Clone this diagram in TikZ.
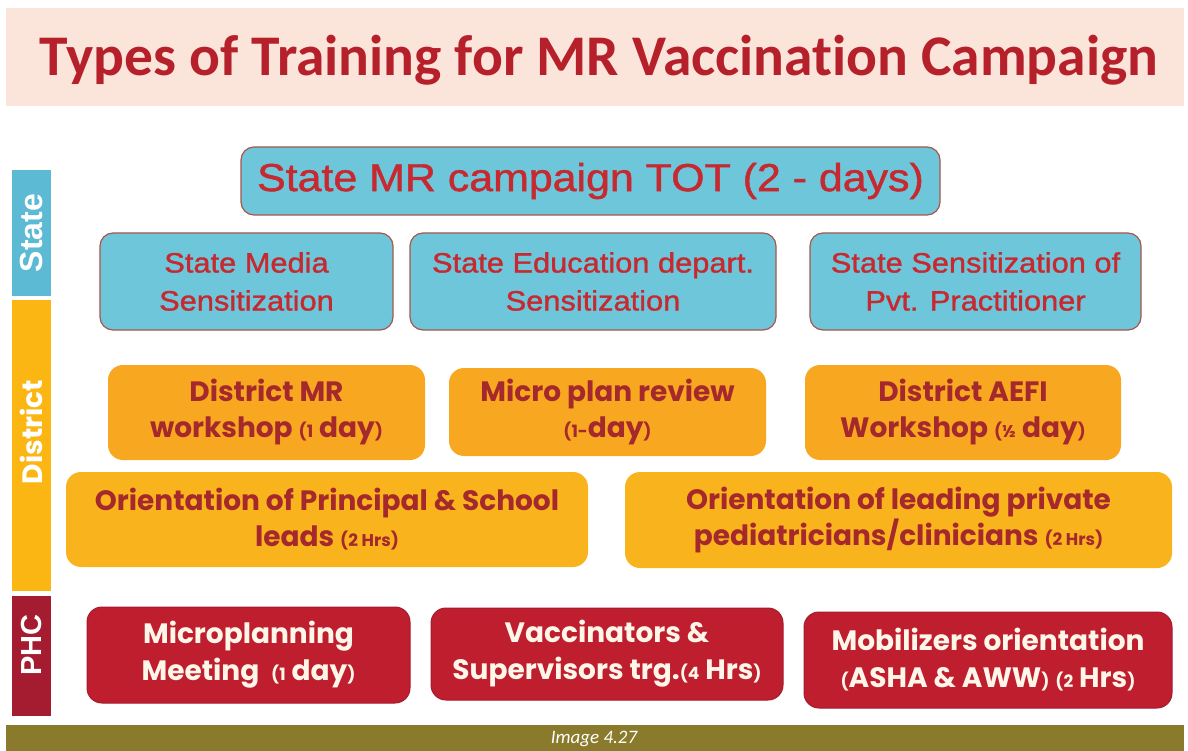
\documentclass[tikz,border=0pt]{standalone}
\usepackage{fontspec}
\setmainfont{Liberation Sans}
\newfontfamily\titlefont{Carlito}[RawFeature=-liga]
\newfontfamily\bluefont{Liberation Sans}[FakeStretch=1.1, FakeBold=1.2]
\newfontfamily\geofont{Poppins}
\definecolor{bandpeach}{HTML}{FBE5DA}
\definecolor{titlered}{HTML}{B5202B}
\definecolor{boxblue}{HTML}{6DC6D9}
\definecolor{barblue}{HTML}{5DBAD5}
\definecolor{bluetext}{HTML}{C62A30}
\definecolor{blueedge}{HTML}{A8564C}
\definecolor{orangeA}{HTML}{F7A820}
\definecolor{orangeB}{HTML}{F9B31C}
\definecolor{orangetext}{HTML}{A5282C}
\definecolor{barorange}{HTML}{FBB614}
\definecolor{phcred}{HTML}{BE1E2D}
\definecolor{barred}{HTML}{A51C30}
\definecolor{footolive}{HTML}{8A7A2B}
\definecolor{cream}{HTML}{FFF6EA}
\tikzset{
  bluebox/.style={draw=blueedge, line width=1.2pt, fill=boxblue, rounded corners=13pt,
    text=bluetext, align=center, inner sep=0pt, font=\bluefont\fontsize{28}{38}\selectfont},
  orangebox/.style={fill=orangeA, rounded corners=15pt, text=orangetext, align=center,
    inner sep=0pt, font=\geofont\bfseries\fontsize{28}{36}\selectfont},
  redbox/.style={fill=phcred, draw=barred, line width=1pt, rounded corners=15pt, text=cream, align=center,
    inner sep=0pt, font=\geofont\bfseries\fontsize{28}{37}\selectfont},
  sidelabel/.style={text=white, rotate=90, font=\bfseries\fontsize{29}{30}\selectfont},
}
\newcommand{\sm}[1]{{\fontsize{17}{17}\selectfont #1}}
\begin{document}
\begin{tikzpicture}[x=1pt,y=-1pt]
\useasboundingbox (0,0) rectangle (1188,751);
\fill[white] (0,0) rectangle (1188,751);
% title band
\fill[bandpeach] (6,8) rectangle (1184,106);
\node[text=titlered, font=\titlefont\bfseries\fontsize{57.5}{60}\selectfont] (title) at (599,60) {Types of Training for MR Vaccination Campaign};
% side bars
\fill[barblue] (12,170) rectangle (51,296);
\fill[barorange] (12,300) rectangle (51,591);
\fill[barred] (12,596) rectangle (51,716);
\node[sidelabel, font=\bfseries\fontsize{32}{32}\selectfont] (lstate) at (31.5,233) {State};
\node[sidelabel, font=\geofont\bfseries\fontsize{28}{30}\selectfont] (ldistrict) at (31.5,432) {District};
\node[sidelabel] (lphc) at (31.5,645) {PHC};
% state
\node[bluebox, minimum width=699pt, minimum height=68pt, font=\bluefont\fontsize{39}{40}\selectfont] (tot) at (590.5,181) {State MR campaign TOT (2 - days)};
\node[bluebox, minimum width=293pt, minimum height=97pt] (media) at (246.5,281.5) {State Media\\Sensitization};
\node[bluebox, minimum width=366pt, minimum height=97pt] (edu) at (593,281.5) {State Education depart.\\Sensitization};
\node[bluebox, minimum width=331pt, minimum height=97pt] (pvt) at (975.5,281.5) {State Sensitization of\\Pvt. Practitioner};
% district
\node[orangebox, minimum width=317pt, minimum height=95pt] (dmr) at (266.5,412.5) {District MR\\workshop \sm{(1} day\sm{)}};
\node[orangebox, minimum width=317pt, minimum height=88pt] (micro) at (607.5,412) {Micro plan review\\\sm{(1-}day\sm{)}};
\node[orangebox, minimum width=316pt, minimum height=95pt] (aefi) at (963,412.5) {District AEFI\\Workshop \sm{(½} day\sm{)}};
\node[orangebox, fill=orangeB, minimum width=522pt, minimum height=95pt] (principal) at (327,519.5) {Orientation of Principal \& School\\leads \sm{(2 Hrs)}};
\node[orangebox, fill=orangeB, minimum width=547pt, minimum height=96pt] (pediatric) at (898.5,520) {Orientation of leading private\\pediatricians/clinicians \sm{(2 Hrs)}};
% PHC
\node[redbox, minimum width=323pt, minimum height=96pt] (mplan) at (248.5,655) {Microplanning\\Meeting \ \sm{(1} day\sm{)}};
\node[redbox, minimum width=352pt, minimum height=92pt] (vacc) at (607,654) {Vaccinators \&\\Supervisors trg.\sm{(4} Hrs\sm{)}};
\node[redbox, minimum width=368pt, minimum height=96pt] (mobil) at (988,660) {Mobilizers orientation\\\sm{(}ASHA \& AWW\sm{)} \sm{(2} Hrs\sm{)}};
% footer
\fill[footolive] (6,725) rectangle (1184,751);
\node[text=white, font=\titlefont\itshape\fontsize{19}{19}\selectfont] (caption) at (594,739) {Image 4.27};
\end{tikzpicture}
\end{document}
